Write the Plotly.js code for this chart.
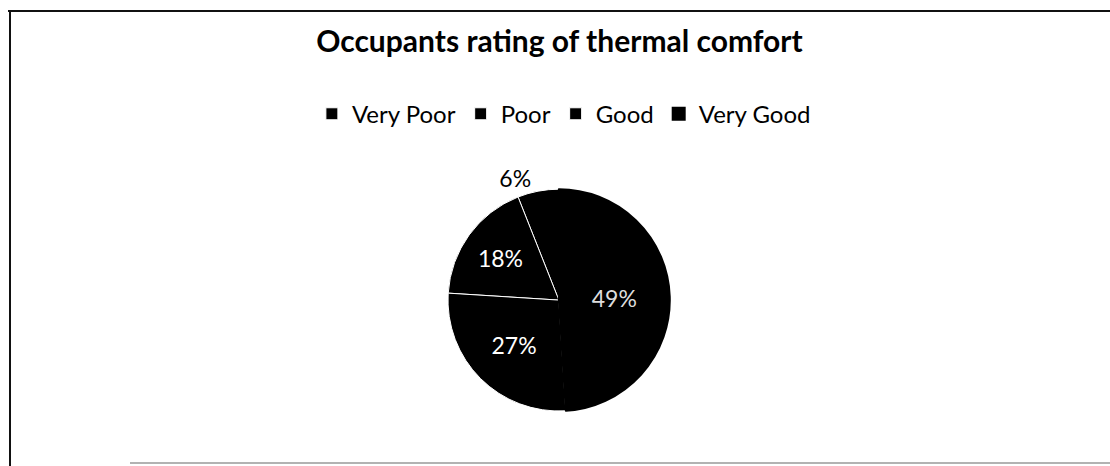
<!DOCTYPE html>
<html>
<head>
<meta charset="utf-8">
<script src="https://cdn.plot.ly/plotly-3.0.1.min.js"></script>
<style>html,body{margin:0;padding:0;background:#fff;}#chart{width:1110px;height:466px;}</style>
</head>
<body>
<div id="chart"></div>
<script>
const categories = ["Very Poor", "Poor", "Good", "Very Good"];
const shares = [6, 18, 27, 49];
const titleText = "Occupants rating of thermal comfort";

const trace = {
  type: "pie",
  labels: categories,
  values: shares,
  sort: false,
  direction: "counterclockwise",
  rotation: -21.6,
  textinfo: "percent",
  textposition: ["outside", "inside", "inside", "inside"],
  insidetextorientation: "horizontal",
  texttemplate: "%{percent:.0%}",
  textfont: {family: "Lato, 'Open Sans', sans-serif", size: 23, color: ["#000", "#fff", "#fff", "#ddd"]},
  outsidetextfont: {family: "Lato, 'Open Sans', sans-serif", size: 23, color: "#000"},
  marker: {
    colors: ["#000000", "#000000", "#000000", "#000000"],
    line: {color: ["#ffffff", "#ffffff", "#ffffff", "#000000"], width: [1, 1, 1, 2]}
  },
  domain: {x: [0.3, 0.707], y: [0.118, 0.594]},
  hoverinfo: "label+percent"
};

const layout = {
  width: 1110, height: 466,
  margin: {l: 0, r: 0, t: 0, b: 0},
  paper_bgcolor: "#fff",
  showlegend: true,
  title: {
    text: "<b>" + titleText + "</b>",
    x: 0.504, xanchor: "center",
    y: 0.91, yanchor: "middle",
    font: {family: "Lato, 'Open Sans', sans-serif", size: 30, color: "#000"}
  },
  legend: {
    orientation: "h",
    x: 0.508, xanchor: "center",
    y: 0.755, yanchor: "middle",
    font: {family: "Lato, 'Open Sans', sans-serif", size: 24, color: "#000"},
    traceorder: "normal",
    itemwidth: 30
  },
  shapes: [
    {type: "line", xref: "paper", yref: "paper", x0: 10/1110, x1: 10/1110, y0: 0, y1: 1 - 11/466, line: {color: "#111", width: 2}},
    {type: "line", xref: "paper", yref: "paper", x0: 8/1110, x1: 1, y0: 1 - 11/466, y1: 1 - 11/466, line: {color: "#111", width: 2}},
    {type: "line", xref: "paper", yref: "paper", x0: 130/1110, x1: 1, y0: 1 - 463/466, y1: 1 - 463/466, line: {color: "#999", width: 1.5}}
  ]
};

Plotly.newPlot("chart", [trace], layout, {displayModeBar: false, staticPlot: true});
</script>
</body>
</html>
